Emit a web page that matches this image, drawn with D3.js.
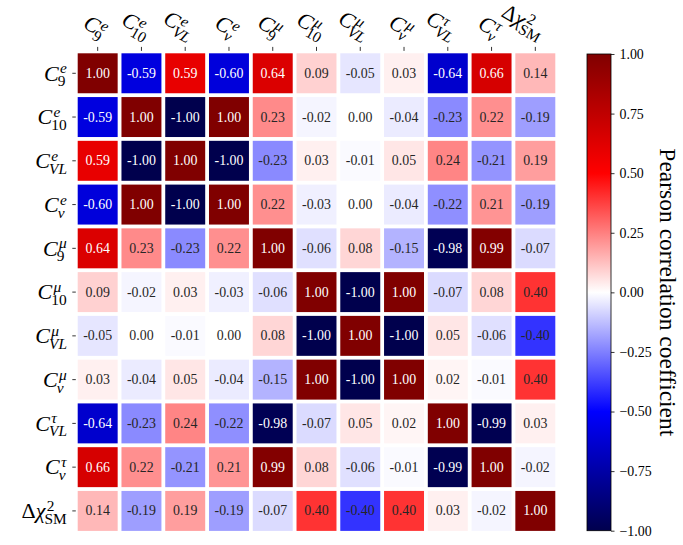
<!DOCTYPE html>
<html><head><meta charset="utf-8">
<script src="https://cdn.jsdelivr.net/npm/d3@7"></script>
<style>body{margin:0;background:#fff}svg{display:block}text{font-family:"Liberation Serif","DejaVu Serif",serif}</style>
</head><body><div id="chart"></div>
<script>
// ---------- data ----------
const labelKeys = ["C9e","C10e","CVLe","Cnue","C9mu","C10mu","CVLmu","Cnumu","CVLtau","Cnutau","dchi2"];
// label specs: base, superscript, subscript (it = italic)
const labelSpecs = [
  {base:[{t:"C",it:1}], sup:{t:"e",it:1}, sub:{t:"9",it:0}},
  {base:[{t:"C",it:1}], sup:{t:"e",it:1}, sub:{t:"10",it:0}},
  {base:[{t:"C",it:1}], sup:{t:"e",it:1}, sub:{t:"VL",it:1}},
  {base:[{t:"C",it:1}], sup:{t:"e",it:1}, sub:{t:"ν",it:1}},
  {base:[{t:"C",it:1}], sup:{t:"μ",it:1}, sub:{t:"9",it:0}},
  {base:[{t:"C",it:1}], sup:{t:"μ",it:1}, sub:{t:"10",it:0}},
  {base:[{t:"C",it:1}], sup:{t:"μ",it:1}, sub:{t:"VL",it:1}},
  {base:[{t:"C",it:1}], sup:{t:"μ",it:1}, sub:{t:"ν",it:1}},
  {base:[{t:"C",it:1}], sup:{t:"τ",it:1}, sub:{t:"VL",it:1}},
  {base:[{t:"C",it:1}], sup:{t:"τ",it:1}, sub:{t:"ν",it:1}},
  {base:[{t:"Δ",it:0},{t:"χ",it:1}], sup:{t:"2",it:0}, sub:{t:"SM",it:0}}
];
const corr = [
  [ 1.00,-0.59, 0.59,-0.60, 0.64, 0.09,-0.05, 0.03,-0.64, 0.66, 0.14],
  [-0.59, 1.00,-1.00, 1.00, 0.23,-0.02, 0.00,-0.04,-0.23, 0.22,-0.19],
  [ 0.59,-1.00, 1.00,-1.00,-0.23, 0.03,-0.01, 0.05, 0.24,-0.21, 0.19],
  [-0.60, 1.00,-1.00, 1.00, 0.22,-0.03, 0.00,-0.04,-0.22, 0.21,-0.19],
  [ 0.64, 0.23,-0.23, 0.22, 1.00,-0.06, 0.08,-0.15,-0.98, 0.99,-0.07],
  [ 0.09,-0.02, 0.03,-0.03,-0.06, 1.00,-1.00, 1.00,-0.07, 0.08, 0.40],
  [-0.05, 0.00,-0.01, 0.00, 0.08,-1.00, 1.00,-1.00, 0.05,-0.06,-0.40],
  [ 0.03,-0.04, 0.05,-0.04,-0.15, 1.00,-1.00, 1.00, 0.02,-0.01, 0.40],
  [-0.64,-0.23, 0.24,-0.22,-0.98,-0.07, 0.05, 0.02, 1.00,-0.99, 0.03],
  [ 0.66, 0.22,-0.21, 0.21, 0.99, 0.08,-0.06,-0.01,-0.99, 1.00,-0.02],
  [ 0.14,-0.19, 0.19,-0.19,-0.07, 0.40,-0.40, 0.40, 0.03,-0.02, 1.00]
];
const cbTicks = [-1.00,-0.75,-0.50,-0.25,0.00,0.25,0.50,0.75,1.00];
const cbLabel = "Pearson correlation coefficient";

// ---------- layout ----------
const W = 683, H = 545;
const gx0 = 75.8, gx1 = 557.2, gy0 = 51.4, gy1 = 532.8;
const cbx0 = 587, cbx1 = 611, cby0 = 54, cby1 = 530.7;
const labelSize = 22, annSize = 13.9;

const svg = d3.select("#chart").append("svg").attr("width", W).attr("height", H);

// seismic colormap
const seismic = d3.scaleLinear()
  .domain([-1,-0.5,0,0.5,1])
  .range(["rgb(0,0,77)","rgb(0,0,255)","rgb(255,255,255)","rgb(255,0,0)","rgb(128,0,0)"])
  .interpolate(d3.interpolateRgb).clamp(true);

const x = d3.scaleBand().domain(labelKeys).range([gx0, gx1]);
const y = d3.scaleBand().domain(labelKeys).range([gy0, gy1]);
const inset = 1.9;

const cells = [];
corr.forEach((row, i) => row.forEach((v, j) => cells.push({r: labelKeys[i], c: labelKeys[j], v})));

const cellG = svg.append("g");
cellG.selectAll("rect").data(cells).join("rect")
  .attr("x", d => x(d.c) + inset).attr("y", d => y(d.r) + inset)
  .attr("width", x.bandwidth() - 2*inset).attr("height", y.bandwidth() - 2*inset)
  .attr("fill", d => seismic(d.v));
cellG.selectAll("text").data(cells).join("text")
  .attr("x", d => x(d.c) + x.bandwidth()/2).attr("y", d => y(d.r) + y.bandwidth()/2)
  .attr("text-anchor", "middle").attr("dominant-baseline", "central")
  .attr("font-size", annSize)
  .attr("fill", d => Math.abs(d.v) > 0.5 ? "#ffffff" : "#262626")
  .text(d => d.v.toFixed(2));

// math label builder: one text element, sup and sub stacked via tspans
function mathLabel(g, spec, size) {
  const t = g.append("text").attr("font-size", size).attr("fill", "#000");
  spec.base.forEach(p => t.append("tspan").attr("font-style", p.it ? "italic" : "normal").text(p.t));
  const ss = size * 0.7;
  const supDx = size * 0.06, supDy = -size * 0.33, subDy = size * 0.26, subDx = -size * 0.04;
  const sup = t.append("tspan").attr("font-size", ss).attr("font-style", spec.sup.it ? "italic" : "normal")
    .attr("dx", supDx).attr("dy", supDy).text(spec.sup.t);
  const supW = sup.node().getComputedTextLength();
  t.append("tspan").attr("font-size", ss).attr("font-style", spec.sub.it ? "italic" : "normal")
    .attr("dx", -(supW + supDx) + subDx).attr("dy", -supDy + subDy).text(spec.sub.t);
  return t;
}

// left axis
const leftG = svg.append("g");
labelKeys.forEach((k, i) => {
  const cy = y(k) + y.bandwidth()/2;
  leftG.append("line").attr("x1", gx0 - 3.5).attr("x2", gx0).attr("y1", cy).attr("y2", cy)
    .attr("stroke", "#000").attr("stroke-width", 0.8);
  const outer = leftG.append("g");
  const inner = outer.append("g");
  mathLabel(inner, labelSpecs[i], labelSize);
  const bb = inner.node().getBBox();
  inner.attr("transform", `translate(${-(bb.x + bb.width)},${-(bb.y + bb.height/2)})`);
  outer.attr("transform", `translate(${67},${cy + 1})`);
});

// top axis
const topG = svg.append("g");
labelKeys.forEach((k, i) => {
  const cx = x(k) + x.bandwidth()/2;
  topG.append("line").attr("x1", cx).attr("x2", cx).attr("y1", gy0 - 3.5 - 1).attr("y2", gy0 - 0.5)
    .attr("stroke", "#000").attr("stroke-width", 0.8);
  const outer = topG.append("g");
  const inner = outer.append("g");
  mathLabel(inner, labelSpecs[i], labelSize);
  const bb = inner.node().getBBox();
  inner.attr("transform", `translate(${-(bb.x + bb.width)},${-(bb.y + bb.height)})`);
  outer.attr("transform", `translate(${cx},${46}) rotate(30)`);
});

// colorbar
const defs = svg.append("defs");
const grad = defs.append("linearGradient").attr("id", "cbgrad")
  .attr("x1", 0).attr("y1", 1).attr("x2", 0).attr("y2", 0);
d3.range(0, 1.0001, 0.05).forEach(t => {
  grad.append("stop").attr("offset", t).attr("stop-color", seismic(-1 + 2*t));
});
const cbScale = d3.scaleLinear().domain([-1, 1]).range([cby1, cby0]);
svg.append("rect").attr("x", cbx0).attr("y", cby0).attr("width", cbx1 - cbx0).attr("height", cby1 - cby0)
  .attr("fill", "url(#cbgrad)").attr("stroke", "#000").attr("stroke-width", 0.8);
const cbAxis = d3.axisRight(cbScale).tickValues(cbTicks).tickSize(3.5).tickPadding(5)
  .tickFormat(d => d3.format(".2f")(d).replace("-", "−"));
const cbG = svg.append("g").attr("transform", `translate(${cbx1},0)`).call(cbAxis);
cbG.select(".domain").remove();
cbG.selectAll(".tick line").attr("stroke", "#000").attr("stroke-width", 0.8);
cbG.selectAll(".tick text").attr("font-size", annSize).attr("font-family", "Liberation Serif").attr("fill", "#000");

svg.append("text").attr("transform", `translate(${668},${(cby0 + cby1)/2}) rotate(90)`)
  .attr("text-anchor", "middle").attr("dominant-baseline", "central")
  .attr("font-size", 23.5).text(cbLabel);
</script></body></html>
